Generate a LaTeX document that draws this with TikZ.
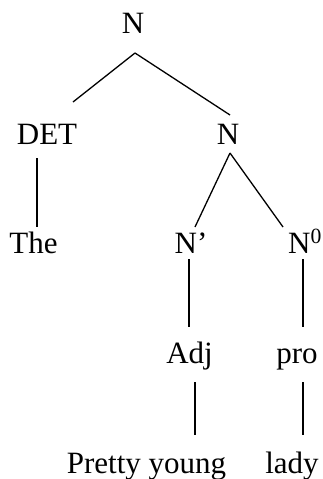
\documentclass[tikz,border=0pt]{standalone}
\usepackage{fontspec}
\setmainfont{Liberation Serif}
\begin{document}
\begin{tikzpicture}[x=1pt,y=-1pt,
  lbl/.style={anchor=base,inner sep=0pt,font=\fontsize{31}{37}\selectfont},
  edge/.style={line width=1.3pt}]
\useasboundingbox (0,0) rectangle (323,479);
\node[lbl] (top) at (133,33) {N};
\node[lbl] (det) at (47,144) {DET};
\node[lbl] (nr) at (228,144) {N};
\node[lbl] (the) at (33.5,253) {The};
\node[lbl] (nbar) at (191,253) {N’};
\node[lbl] (nzero) at (305,253) {N\textsuperscript{0}};
\node[lbl] (adj) at (189.5,363) {Adj};
\node[lbl] (pro) at (297,363) {pro};
\node[lbl] (pretty) at (146.5,473) {Pretty young};
\node[lbl] (lady) at (292,473) {lady};
\draw[edge] ([shift={(2,20)}]top.base) -- ([shift={(26,-42)}]det.base);
\draw[edge] ([shift={(2,20)}]top.base) -- ([shift={(2,-29)}]nr.base);
\draw[edge] ([shift={(-10,14)}]det.base) -- ([shift={(3.5,-26)}]the.base);
\draw[edge] ([shift={(2,9)}]nr.base) -- ([shift={(4,-26)}]nbar.base);
\draw[edge] ([shift={(2,9)}]nr.base) -- ([shift={(-22,-26)}]nzero.base);
\draw[edge] ([shift={(-2,6)}]nbar.base) -- ([shift={(-0.5,-36)}]adj.base);
\draw[edge] ([shift={(-2,6)}]nzero.base) -- ([shift={(6,-36)}]pro.base);
\draw[edge] ([shift={(5.5,19)}]adj.base) -- ([shift={(48.5,-38)}]pretty.base);
\draw[edge] ([shift={(6,19)}]pro.base) -- ([shift={(11,-38)}]lady.base);
\end{tikzpicture}
\end{document}
